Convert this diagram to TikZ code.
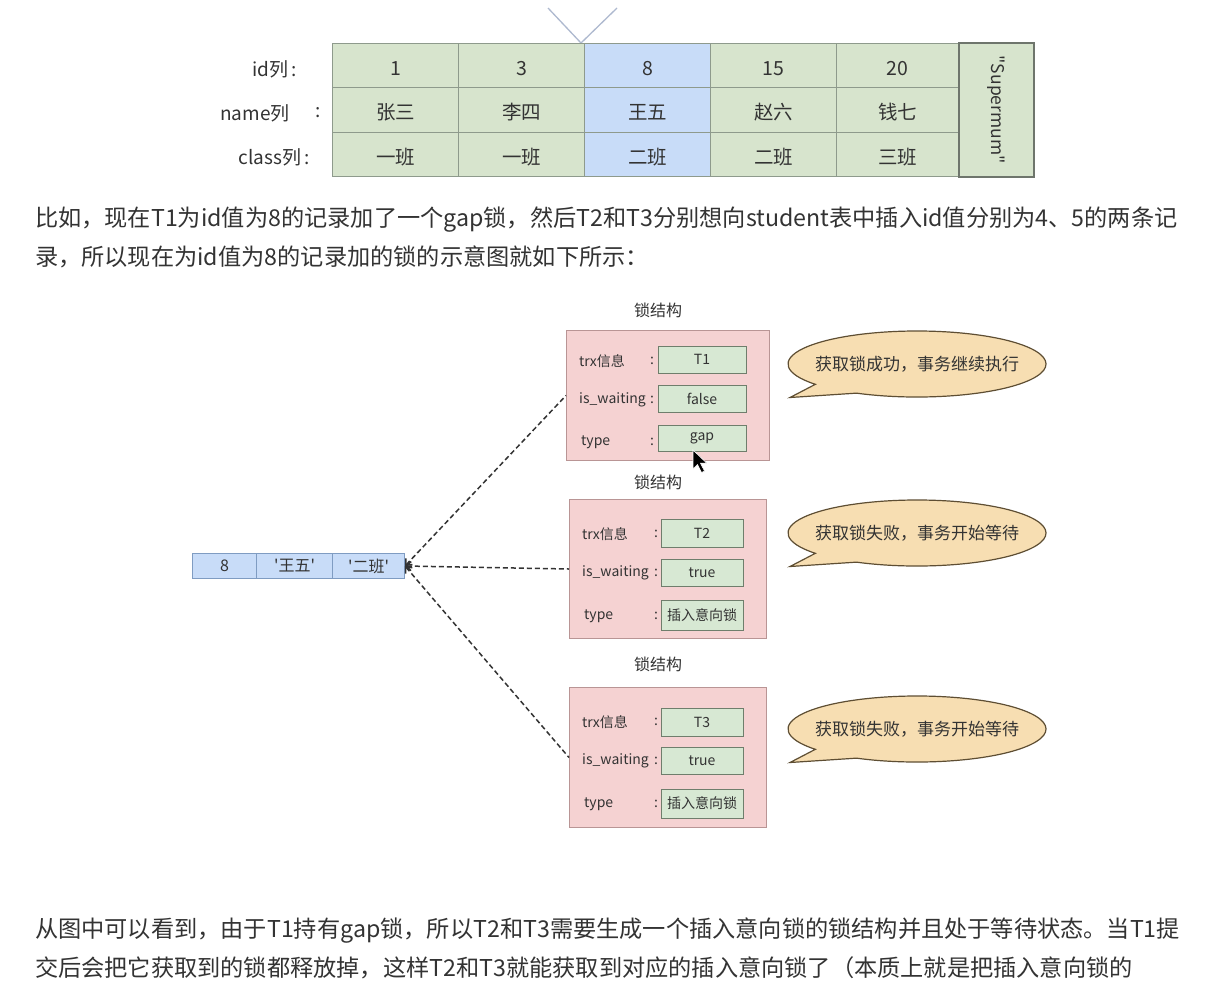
\documentclass[tikz,border=0pt]{standalone}
\usepackage{fontspec}
\newfontfamily\cjk{Noto Sans CJK SC}
\usetikzlibrary{arrows.meta,calc}
\newcommand\myfs[1]{\fontsize{#1}{#1}\selectfont}
\definecolor{txt}{HTML}{333333}
\definecolor{tgreen}{HTML}{D7E4CD}
\definecolor{tline}{HTML}{8E9A8C}
\definecolor{tblue}{HTML}{C8DCF8}
\definecolor{bline}{HTML}{7F9CC2}
\definecolor{supline}{HTML}{6E756C}
\definecolor{lpink}{HTML}{F5D2D2}
\definecolor{lline}{HTML}{B99595}
\definecolor{vgreen}{HTML}{D7E8D3}
\definecolor{vline}{HTML}{6F7E6C}
\definecolor{bub}{HTML}{F7DEB2}
\definecolor{bubline}{HTML}{5E4E33}
\definecolor{vee}{HTML}{AEB9CF}
\tikzset{
  tcell/.style={draw=tline, line width=1pt, fill=tgreen, anchor=north west, minimum height=44.3pt, inner sep=0pt, text height=20pt, text depth=0pt, font=\cjk\myfs{19.5}, text=txt},
  rowlbl/.style={anchor=east, inner sep=0pt, font=\cjk\myfs{19}, text=txt},
  para/.style={anchor=west, inner sep=0pt, font=\cjk\myfs{23.2}, text=txt},
  rcell/.style={draw=bline, line width=1pt, fill=tblue, anchor=north west, minimum height=25pt, inner sep=0pt, font=\cjk\myfs{16}, text=txt},
  lockbox/.style={draw=lline, line width=1pt, fill=lpink, anchor=north west, inner sep=0pt},
  locktitle/.style={inner sep=0pt, font=\cjk\myfs{16}, text=txt},
  lbl/.style={anchor=west, inner sep=0pt, font=\cjk\myfs{14}, text=txt},
  colon/.style={inner sep=0pt, font=\cjk\myfs{14}, text=txt},
  valbox/.style={draw=vline, line width=1pt, fill=vgreen, inner sep=0pt, font=\cjk\myfs{14}, text=txt},
  conn/.style={draw=black!80, line width=1.5pt, dash pattern=on 5pt off 3pt, {Straight Barb[length=5pt,width=9pt]}-},
  bubble/.style={draw=bubline, line width=1.2pt, fill=bub},
  bubtxt/.style={inner sep=0pt, font=\cjk\myfs{17}, text=txt},
}
\begin{document}
\begin{tikzpicture}[x=1pt,y=-1pt]
\useasboundingbox (0,0) rectangle (1219,989);
\fill[white] (0,0) rectangle (1219,989);
\clip (0,0) rectangle (1219,989);

% V marker at top
\coordinate (vtip) at (581,43);
\coordinate (vl) at (548,8);
\coordinate (vr) at (617,8);
\draw[vee, line width=1.3pt] (vl) -- (vtip) -- (vr);

% top table
\foreach \n/\x/\w/\f/\a/\b/\c in {1/332/126/tgreen/1/张三/一班, 2/458/126/tgreen/3/李四/一班, 3/584/126/tblue/8/王五/二班, 4/710/126/tgreen/15/赵六/二班, 5/836/122/tgreen/20/钱七/三班}{
  \node[tcell, fill=\f, minimum width=\w pt] (id\n) at (\x,43) {\a};
  \node[tcell, fill=\f, minimum width=\w pt] (nm\n) at (\x,87.3) {\b};
  \node[tcell, fill=\f, minimum width=\w pt] (cl\n) at (\x,131.6) {\c};
}
\node[draw=supline, line width=1.6pt, fill=tgreen, anchor=north west, minimum width=75pt, minimum height=134pt, inner sep=0pt] (sup) at (958,42) {};
\node[rotate=-90, inner sep=0pt, font=\cjk\myfs{17.5}, text=txt] (suptxt) at (sup.center) {"Supermum"};

\node[rowlbl] (lid) at (297,69) {id列\,:};
\node[rowlbl] (lnm) at (290,113) {name列};
\node[colon, font=\cjk\myfs{19}] (lnmc) at (318,113) {:};
\node[rowlbl] (lcl) at (310,157) {class列\,:};

% paragraph 1
\node[para] (p1) at (35,220) {比如，现在T1为id值为8的记录加了一个gap锁，然后T2和T3分别想向student表中插入id值分别为4、5的两条记};
\node[para] (p2) at (35,257) {录，所以现在为id值为8的记录加的锁的示意图就如下所示：};

% record
\node[rcell, minimum width=64pt] (r1) at (192,553) {8};
\node[rcell, minimum width=76pt] (r2) at (256,553) {'王五'};
\node[rcell, minimum width=72pt] (r3) at (332,553) {'二班'};

% lock 1
\node[locktitle] (t1) at (658,310) {锁结构};
\node[lockbox, minimum width=203pt, minimum height=130pt] (L1) at (566,330) {};
\node[lbl] (L1a) at (579,361) {trx信息};
\node[lbl] (L1b) at (579,400) {is\_waiting};
\node[lbl] (L1c) at (581,442) {type};
\node[colon] (L1ac) at (652,361) {:};
\node[colon] (L1bc) at (652,400) {:};
\node[colon] (L1cc) at (652,442) {:};
\node[valbox, minimum width=88pt, minimum height=27pt] (V1a) at (702,359.5) {T1};
\node[valbox, minimum width=88pt, minimum height=27pt] (V1b) at (702,398.5) {false};
\node[valbox, minimum width=88pt, minimum height=26pt] (V1c) at (702,438) {gap};

% lock 2
\node[locktitle] (t2) at (658,482) {锁结构};
\node[lockbox, minimum width=197pt, minimum height=139pt] (L2) at (569,499) {};
\node[lbl] (L2a) at (582,534) {trx信息};
\node[lbl] (L2b) at (582,573) {is\_waiting};
\node[lbl] (L2c) at (584,616) {type};
\node[colon] (L2ac) at (656,534) {:};
\node[colon] (L2bc) at (656,573) {:};
\node[colon] (L2cc) at (656,616) {:};
\node[valbox, minimum width=82pt, minimum height=28pt] (V2a) at (702,533) {T2};
\node[valbox, minimum width=82pt, minimum height=27pt] (V2b) at (702,572.5) {true};
\node[valbox, minimum width=82pt, minimum height=30pt] (V2c) at (702,615) {插入意向锁};

% lock 3
\node[locktitle] (t3) at (658,664) {锁结构};
\node[lockbox, minimum width=197pt, minimum height=140pt] (L3) at (569,687) {};
\node[lbl] (L3a) at (582,722) {trx信息};
\node[lbl] (L3b) at (582,761) {is\_waiting};
\node[lbl] (L3c) at (584,804) {type};
\node[colon] (L3ac) at (656,722) {:};
\node[colon] (L3bc) at (656,761) {:};
\node[colon] (L3cc) at (656,804) {:};
\node[valbox, minimum width=82pt, minimum height=28pt] (V3a) at (702,722) {T3};
\node[valbox, minimum width=82pt, minimum height=27pt] (V3b) at (702,760.5) {true};
\node[valbox, minimum width=82pt, minimum height=29pt] (V3c) at (702,803.5) {插入意向锁};

% connectors
\draw[conn] (r3.east) -- (L1.west);
\draw[conn] (r3.east) -- (L2.west);
\draw[conn] (r3.east) -- (L3.west);

% cursor
\coordinate (cur) at (693,450);
\filldraw[fill=black, draw=white, line width=0.6pt] (cur) -- ++(0,19) -- ++(4.5,-4.5) -- ++(4,8) -- ++(3,-1.5) -- ++(-4,-7.8) -- ++(6.3,0) -- cycle;

% bubbles
\foreach \i/\cy/\t in {1/364/获取锁成功，事务继续执行, 2/533/获取锁失败，事务开始等待, 3/729/获取锁失败，事务开始等待}{
  \coordinate (bc\i) at (917,\cy);
  \coordinate (btip\i) at (790,\cy+33.5);
  \draw[bubble] ($(bc\i)+(118:129 and 33)$) arc[start angle=118, end angle=-218, x radius=129, y radius=33] -- (btip\i) -- cycle;
  \node[bubtxt] (bt\i) at (bc\i) {\t};
}

% paragraph 2
\node[para] (p3) at (35,931) {从图中可以看到，由于T1持有gap锁，所以T2和T3需要生成一个插入意向锁的锁结构并且处于等待状态。当T1提};
\node[para] (p4) at (35,968) {交后会把它获取到的锁都释放掉，这样T2和T3就能获取到对应的插入意向锁了（本质上就是把插入意向锁的};
\end{tikzpicture}
\end{document}
